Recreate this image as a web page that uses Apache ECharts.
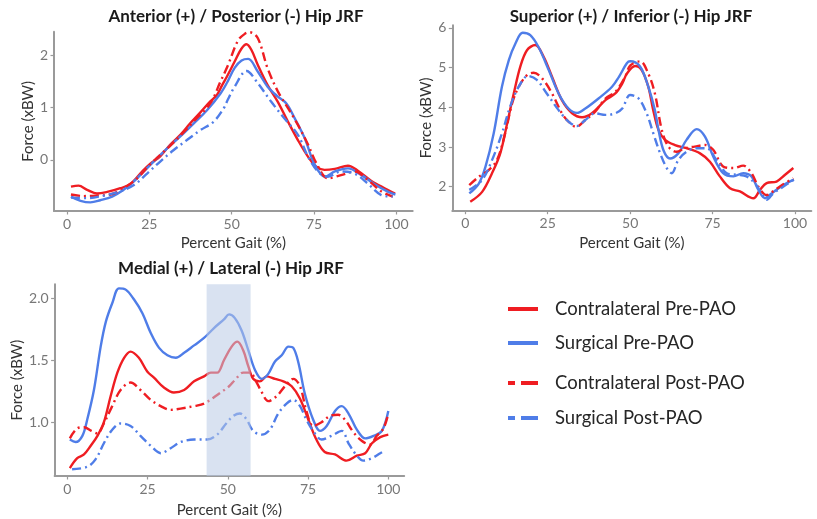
<!DOCTYPE html>
<html>
<head>
<meta charset="utf-8">
<script src="https://cdn.jsdelivr.net/npm/echarts@6/dist/echarts.min.js"></script>
<style>
html,body{margin:0;padding:0;background:#fff;}
#chart{width:817px;height:519px;}
</style>
</head>
<body>
<div id="chart"></div>
<script>
// ---------- DATA ----------
const seriesNames = ['Contralateral Pre-PAO', 'Surgical Pre-PAO', 'Contralateral Post-PAO', 'Surgical Post-PAO'];
const panelTitles = ['Anterior (+) / Posterior (-) Hip JRF', 'Superior (+) / Inferior (-) Hip JRF', 'Medial (+) / Lateral (-) Hip JRF'];
const xTicks = [0, 25, 50, 75, 100];
const yTicksAnt = [0, 1, 2];
const yTicksSup = [2, 3, 4, 5, 6];
const yTicksMed = [1.0, 1.5, 2.0];
const shadedBand = [43.4, 57.1];

// Anterior/Posterior
const antContraPre = [[1.2,-0.51],[3.5,-0.49],[6.1,-0.57],[9.1,-0.64],[12.2,-0.61],[16.2,-0.54],[19.2,-0.46],[22.8,-0.22],[25.3,-0.07],[28.3,0.07],[31.3,0.29],[34.4,0.48],[37.4,0.70],[40.5,0.91],[43.5,1.12],[45.5,1.24],[47.1,1.43],[48.6,1.60],[50.9,1.88],[52.9,2.12],[54.5,2.21],[56.0,2.10],[57.9,1.82],[60.9,1.43],[64.0,1.11],[67.1,0.73],[70.1,0.38],[73.2,0.06],[75.7,-0.13],[78.2,-0.19],[81.3,-0.17],[85.3,-0.11],[88.4,-0.21],[92.4,-0.40],[96.4,-0.54],[99.6,-0.64]];
const antSurgPre = [[1.2,-0.70],[4.1,-0.78],[7.1,-0.81],[10.1,-0.77],[13.7,-0.70],[17.2,-0.57],[20.3,-0.41],[23.3,-0.22],[26.3,-0.03],[30.4,0.22],[34.4,0.45],[38.5,0.70],[42.5,0.95],[46.6,1.27],[48.6,1.48],[50.9,1.76],[53.0,1.90],[55.0,1.93],[57.9,1.69],[60.9,1.40],[64.0,1.21],[66.6,1.08],[69.1,0.80],[72.2,0.41],[75.2,-0.09],[78.3,-0.32],[81.3,-0.22],[85.3,-0.16],[89.4,-0.29],[93.5,-0.47],[97.5,-0.61],[99.7,-0.66]];
const antContraPost = [[1.2,-0.66],[5.1,-0.69],[9.1,-0.68],[13.2,-0.66],[17.2,-0.54],[21.3,-0.35],[25.0,-0.10],[28.0,0.08],[31.3,0.27],[35.0,0.50],[38.5,0.74],[43.5,1.08],[46.6,1.50],[48.8,1.80],[51.9,2.28],[54.0,2.41],[55.4,2.44],[57.9,2.33],[60.9,1.75],[64.0,1.31],[67.1,0.99],[70.1,0.67],[73.2,0.29],[75.7,-0.06],[79.2,-0.35],[83.2,-0.29],[87.3,-0.22],[91.3,-0.38],[95.4,-0.60],[98.9,-0.70]];
const antSurgPost = [[1.2,-0.72],[6.1,-0.73],[11.2,-0.68],[16.2,-0.60],[20.3,-0.48],[24.3,-0.26],[28.3,-0.03],[32.4,0.19],[36.4,0.38],[40.5,0.57],[44.5,0.73],[47.6,0.99],[48.8,1.15],[50.9,1.40],[54.5,1.70],[57.9,1.47],[61.9,1.12],[65.9,0.80],[70.1,0.48],[73.2,0.06],[76.2,-0.22],[79.2,-0.32],[83.2,-0.22],[87.3,-0.26],[91.3,-0.45],[95.4,-0.67],[98.9,-0.70]];

// Superior/Inferior
const supContraPre = [[1.5,1.62],[5.1,1.87],[8.1,2.34],[10.6,2.84],[12.7,3.60],[14.7,4.35],[16.7,5.03],[18.7,5.44],[21.2,5.57],[23.8,5.27],[26.3,4.77],[29.3,4.18],[32.4,3.85],[35.4,3.75],[38.4,3.85],[42.5,4.18],[45.5,4.35],[47.6,4.60],[49.0,4.85],[51.5,5.04],[53.5,4.94],[55.5,4.52],[57.0,3.93],[58.6,3.43],[60.6,3.18],[63.6,3.05],[67.1,2.97],[71.2,2.84],[74.2,2.63],[77.2,2.26],[80.3,1.96],[83.3,1.88],[87.4,1.71],[89.4,1.92],[91.4,2.09],[94.4,2.13],[97.0,2.30],[99.5,2.47]];
const supSurgPre = [[1.2,1.83],[4.1,2.08],[6.1,2.50],[8.6,3.34],[11.1,4.52],[13.2,5.19],[15.2,5.61],[17.4,5.88],[19.7,5.82],[22.2,5.52],[25.3,4.94],[28.3,4.35],[31.3,3.97],[33.9,3.86],[36.4,3.97],[40.5,4.23],[44.5,4.52],[46.6,4.77],[49.0,5.11],[50.0,5.16],[53.0,5.03],[55.5,4.52],[57.5,3.93],[58.6,3.43],[60.1,2.92],[62.1,2.71],[64.6,2.84],[67.1,3.18],[70.2,3.45],[72.7,3.26],[75.2,2.76],[78.2,2.34],[81.3,2.26],[84.3,2.34],[86.8,2.26],[88.9,1.92],[90.9,1.71],[92.9,1.83],[96.4,2.04],[99.7,2.18]];
const supContraPost = [[1.2,2.04],[4.1,2.25],[7.1,2.42],[9.6,2.67],[12.1,3.35],[14.2,4.10],[16.2,4.52],[18.7,4.81],[20.7,4.87],[23.3,4.73],[26.3,4.35],[29.3,3.85],[31.3,3.64],[33.6,3.51],[36.4,3.68],[39.4,3.89],[42.5,4.22],[45.5,4.39],[48.5,4.77],[50.0,5.05],[53.0,5.16],[55.5,4.85],[57.5,4.35],[59.6,3.43],[61.6,3.01],[64.1,2.88],[66.6,2.97],[69.6,3.01],[72.7,3.05],[75.2,2.93],[78.2,2.51],[81.3,2.47],[84.3,2.53],[86.8,2.34],[88.9,2.00],[91.4,1.79],[93.9,1.92],[97.0,2.09],[99.5,2.21]];
const supSurgPost = [[1.2,1.92],[5.1,2.17],[8.1,2.67],[11.1,3.34],[13.6,4.02],[16.2,4.52],[19.0,4.79],[21.7,4.69],[24.7,4.35],[28.3,3.93],[31.3,3.64],[33.9,3.53],[36.4,3.68],[39.4,3.85],[42.5,3.81],[45.5,3.85],[47.6,3.97],[50.0,4.31],[52.5,4.23],[55.0,3.85],[57.0,3.35],[59.1,2.84],[61.1,2.47],[62.6,2.34],[64.6,2.67],[67.1,2.88],[70.2,2.97],[73.2,2.97],[76.2,2.67],[79.3,2.34],[82.3,2.30],[85.3,2.26],[87.8,2.09],[89.9,1.83],[91.4,1.67],[93.4,1.83],[96.4,2.00],[99.5,2.17]];

// Medial/Lateral
const medContraPre = [[0.8,0.63],[3.1,0.71],[5.2,0.74],[7.3,0.81],[9.4,0.89],[11.4,1.00],[13.5,1.21],[15.6,1.40],[17.7,1.52],[19.7,1.57],[22.3,1.52],[24.9,1.41],[27.0,1.36],[30.1,1.28],[33.2,1.24],[36.4,1.26],[39.5,1.33],[42.6,1.37],[44.7,1.40],[46.7,1.40],[48.8,1.50],[51.2,1.61],[53.0,1.65],[54.8,1.58],[56.4,1.45],[57.9,1.35],[60.0,1.33],[62.1,1.37],[64.7,1.35],[67.3,1.33],[69.9,1.29],[72.5,1.19],[75.1,1.02],[77.6,0.86],[80.2,0.76],[83.4,0.74],[87.0,0.69],[90.2,0.73],[92.8,0.75],[94.9,0.83],[97.5,0.88],[100,0.90]];
const medSurgPre = [[0.8,0.86],[2.6,0.84],[4.7,0.89],[6.2,1.02],[8.3,1.26],[10.4,1.61],[12.0,1.81],[14.0,1.96],[16.1,2.08],[18.2,2.07],[20.8,1.99],[23.4,1.88],[26.0,1.72],[28.6,1.60],[31.2,1.54],[33.8,1.52],[36.4,1.56],[39.5,1.62],[42.6,1.68],[45.7,1.76],[48.8,1.83],[50.4,1.87],[52.2,1.84],[54.3,1.74],[56.4,1.58],[58.5,1.42],[60.6,1.35],[62.6,1.39],[64.7,1.49],[66.8,1.54],[68.9,1.61],[70.4,1.60],[72.0,1.48],[74.0,1.23],[76.6,1.02],[78.7,0.93],[80.8,0.97],[83.4,1.09],[85.5,1.13],[87.6,1.07],[90.2,0.94],[92.8,0.87],[95.4,0.89],[98.0,0.93],[100,1.09]];
const medContraPost = [[0.8,0.87],[3.1,0.95],[5.2,0.96],[7.5,0.93],[9.4,0.91],[11.4,0.99],[14.0,1.13],[16.6,1.26],[19.7,1.32],[22.8,1.26],[26.0,1.18],[29.1,1.13],[32.2,1.10],[35.3,1.11],[39.5,1.13],[42.6,1.15],[46.7,1.22],[50.4,1.29],[52.2,1.34],[54.8,1.40],[56.9,1.40],[59.0,1.32],[60.6,1.24],[62.6,1.17],[65.2,1.21],[67.8,1.29],[70.4,1.35],[72.5,1.29],[74.5,1.09],[76.6,0.97],[79.2,1.00],[81.8,1.05],[84.4,1.06],[86.5,1.02],[89.1,0.92],[91.7,0.85],[94.3,0.82],[96.4,0.89],[98.5,0.95],[100,1.07]];
const medSurgPost = [[1.5,0.62],[6.2,0.64],[8.8,0.70],[11.4,0.83],[14.0,0.94],[16.6,0.99],[19.7,0.97],[22.8,0.89],[26.0,0.81],[29.1,0.75],[32.2,0.79],[35.3,0.84],[39.5,0.86],[43.6,0.86],[46.7,0.90],[49.5,0.99],[51.7,1.05],[53.8,1.07],[55.9,1.02],[57.9,0.93],[60.6,0.90],[63.1,0.94],[65.7,1.07],[68.3,1.15],[70.4,1.18],[72.5,1.13],[74.5,1.02],[76.6,0.93],[79.2,0.86],[82.3,0.89],[85.5,0.93],[87.6,0.83],[90.2,0.73],[92.2,0.69],[94.9,0.71],[97.5,0.75],[99.0,0.77]];

// ---------- STYLE ----------
const RED = '#ef1d22';
const BLUE = '#4f7de8';
const FONT = 'Lato, "Open Sans", sans-serif';
const AXIS_COLOR = '#9a9a9a';
const LABEL_COLOR = '#777777';
const NAME_COLOR = '#333333';
const DASH = [9, 4, 2, 4];
const styles = [
  {color: RED, type: 'solid'},
  {color: BLUE, type: 'solid'},
  {color: RED, type: DASH},
  {color: BLUE, type: DASH}
];

const panels = [
  {data: [antContraPre, antSurgPre, antContraPost, antSurgPost], yMin: -0.975, yMax: 2.45, yTicks: yTicksAnt, fmt: v => String(v),
   grid: {left: 54, top: 31.7, width: 358.7, height: 179.3}, xNameGap: 24.5, yNameGap: 17.5},
  {data: [supContraPre, supSurgPre, supContraPost, supSurgPost], yMin: 1.395, yMax: 6.07, yTicks: yTicksSup, fmt: v => String(v),
   grid: {left: 452.3, top: 25.2, width: 359, height: 185.5}, xNameGap: 24.5, yNameGap: 18.8},
  {data: [medContraPre, medSurgPre, medContraPost, medSurgPost], yMin: 0.566, yMax: 2.113, yTicks: yTicksMed, fmt: v => v.toFixed(1),
   grid: {left: 54.6, top: 284.3, width: 349.6, height: 192.4}, xNameGap: 27, yNameGap: 30}
];

const grids = [], xAxes = [], yAxes = [], series = [];
panels.forEach((p, i) => {
  grids.push(Object.assign({containLabel: false}, p.grid));
  xAxes.push({
    type: 'value', gridIndex: i, min: -3.95, max: 104.95,
    name: 'Percent Gait (%)', nameLocation: 'middle', nameGap: p.xNameGap,
    nameTextStyle: {fontFamily: FONT, fontSize: 15, color: NAME_COLOR},
    axisLine: {show: true, onZero: false, lineStyle: {color: AXIS_COLOR, width: 2}},
    axisTick: {show: true, length: 3.5, customValues: xTicks, lineStyle: {color: AXIS_COLOR, width: 1.2}},
    axisLabel: {customValues: xTicks, fontFamily: FONT, fontSize: 14, color: LABEL_COLOR, margin: 6},
    splitLine: {show: false}
  });
  yAxes.push({
    type: 'value', gridIndex: i, min: p.yMin, max: p.yMax,
    name: 'Force (xBW)', nameLocation: 'middle', nameGap: p.yNameGap, nameRotate: 90,
    nameTextStyle: {fontFamily: FONT, fontSize: 15, color: NAME_COLOR},
    axisLine: {show: true, onZero: false, lineStyle: {color: AXIS_COLOR, width: 2}},
    axisTick: {show: true, length: 3.5, customValues: p.yTicks, lineStyle: {color: AXIS_COLOR, width: 1.2}},
    axisLabel: {customValues: p.yTicks, formatter: p.fmt, fontFamily: FONT, fontSize: 14, color: LABEL_COLOR, margin: 6},
    splitLine: {show: false}
  });
  p.data.forEach((d, k) => {
    series.push({
      type: 'line', name: seriesNames[k], xAxisIndex: i, yAxisIndex: i,
      data: d, smooth: 0.35, symbol: 'none', showSymbol: false,
      lineStyle: {color: styles[k].color, width: 2.4, type: styles[k].type},
      itemStyle: {color: styles[k].color},
      z: 2
    });
  });
});

// shaded band in medial/lateral panel (drawn on top, translucent)
series.push({
  type: 'line', xAxisIndex: 2, yAxisIndex: 2, data: [], symbol: 'none', z: 10,
  markArea: {
    silent: true, z: 10,
    itemStyle: {color: 'rgba(186,203,229,0.55)'},
    data: [[{xAxis: shadedBand[0]}, {xAxis: shadedBand[1]}]]
  }
});

const titles = [
  {text: panelTitles[0], left: 236, top: 8},
  {text: panelTitles[1], left: 631, top: 8},
  {text: panelTitles[2], left: 231, top: 260.5}
].map(t => Object.assign(t, {textAlign: 'center', padding: 0,
  textStyle: {fontFamily: FONT, fontSize: 17, fontWeight: 'bold', color: '#1a1a1a'}}));

const SOLID_ICON = 'path://M0,0H30V4H0Z';
const DASH_ICON = 'path://M0,0H7V4H0Z M13,0H30V4H13Z';
const legendRows = [309, 343, 383, 418];
const legends = seriesNames.map((n, k) => ({
  data: [{name: n, icon: k < 2 ? SOLID_ICON : DASH_ICON}],
  left: 508, top: legendRows[k] - 11, padding: 0,
  itemWidth: 30, itemHeight: 4, selectedMode: false,
  textStyle: {fontFamily: FONT, fontSize: 18.5, color: '#262626', lineHeight: 22, padding: [0, 0, 0, 12]}
}));

const chart = echarts.init(document.getElementById('chart'), null, {renderer: 'canvas'});
chart.setOption({
  animation: false,
  backgroundColor: '#ffffff',
  title: titles,
  legend: legends,
  grid: grids,
  xAxis: xAxes,
  yAxis: yAxes,
  series: series
});
</script>
</body>
</html>
